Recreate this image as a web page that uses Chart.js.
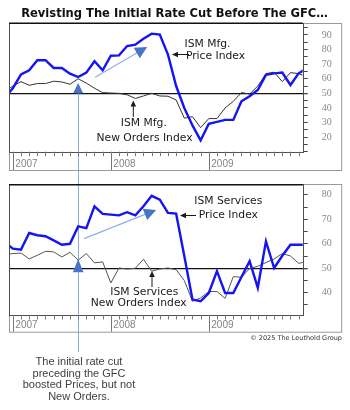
<!DOCTYPE html>
<html>
<head>
<meta charset="utf-8">
<script src="https://cdn.jsdelivr.net/npm/chart.js@4.4.0/dist/chart.umd.min.js"></script>
<style>
  body { margin: 0; background: #fff; width: 350px; height: 410px; overflow: hidden; position: relative; }
  canvas { position: absolute; left: 0; }
  #topChart { top: 0; }
  #botChart { top: 177px; }
</style>
</head>
<body>
<canvas id="topChart" width="350" height="177"></canvas>
<canvas id="botChart" width="350" height="233"></canvas>
<script>
// months, Dec 2006 .. Jan 2010 (first and last are cut off by the plot edges)
const months = ['2006-12',
  '2007-01','2007-02','2007-03','2007-04','2007-05','2007-06','2007-07','2007-08','2007-09','2007-10','2007-11','2007-12',
  '2008-01','2008-02','2008-03','2008-04','2008-05','2008-06','2008-07','2008-08','2008-09','2008-10','2008-11','2008-12',
  '2009-01','2009-02','2009-03','2009-04','2009-05','2009-06','2009-07','2009-08','2009-09','2009-10','2009-11','2009-12',
  '2010-01'];
const yearLabels = ['2007', '2008', '2009'];
const rateCutMonth = '2007-09';

// ISM manufacturing
const mfgPrices = [47, 53.5, 63, 65.8, 72.7, 72.7, 67.4, 67.4, 63.5, 61.2, 64.2, 72, 65.8,
  75.8, 76, 82.4, 83.3, 87.4, 90.9, 90.2, 76.5, 55, 40, 28, 17.8,
  29.1, 30.4, 31.8, 31.8, 44.5, 48, 52.3, 62.6, 63.7, 64.2, 55.7, 63.7,
  67];
const mfgNewOrders = [51, 55, 58, 55.5, 56.7, 56.7, 58.3, 57.8, 56.2, 60, 57, 53.5, 50.5,
  50.2, 50, 49, 46.5, 48.2, 50, 48.2, 48, 45.5, 33, 34, 26.5,
  32.7, 32.7, 40, 44.5, 50.5, 49.5, 55, 63.5, 64.5, 58, 64.2, 63.5,
  61.5];

// ISM services
const svcPrices = [60.8, 58, 57.6, 64.4, 63.5, 63.1, 61.4, 59.6, 60, 67.1, 66.4, 75.3, 72.2,
  71.9, 71.6, 72.9, 71.6, 75.3, 79.6, 78, 72.6, 72.3, 55, 37.2, 36.5,
  39.9, 48.8, 39.9, 39.9, 46.4, 52.9, 42, 61, 50.1, 55.1, 59.6, 59.6,
  59.6];
const svcNewOrders = [55.5, 56, 56.2, 53.8, 55.3, 56.9, 56.7, 54.6, 56.5, 53.3, 56, 52.2, 52.6,
  44, 50.1, 49.7, 50, 53.7, 48.8, 49.7, 50.1, 49.4, 45, 36.5, 37.9,
  40.5, 40.5, 37.7, 46.6, 46.3, 49.9, 50.8, 52.3, 53.8, 56, 55, 52,
  52.8];

const mfgTicks = [20, 30, 40, 50, 60, 70, 80, 90];
const svcTicks = [40, 50, 60, 70, 80];

// month string -> months since Jan 2007
function monthPos(m) {
  const [y, mo] = m.split('-').map(Number);
  return (y - 2007) * 12 + (mo - 1);
}
const monthX = months.map(monthPos);
const toXY = vals => vals.map((v, i) => ({ x: monthX[i], y: v }));

const labelFont = "'DejaVu Sans', sans-serif";

function arrowHead(ctx, tx, ty, fx, fy, len, half) {
  const a = Math.atan2(ty - fy, tx - fx);
  const bx = tx - len * Math.cos(a), by = ty - len * Math.sin(a);
  ctx.beginPath();
  ctx.moveTo(tx, ty);
  ctx.lineTo(bx + half * Math.sin(a), by - half * Math.cos(a));
  ctx.lineTo(bx - half * Math.sin(a), by + half * Math.cos(a));
  ctx.closePath();
  ctx.fill();
}

function fitText(ctx, text, weight, family, width) {
  ctx.font = weight + ' 20px ' + family;
  const size = 20 * width / ctx.measureText(text).width;
  ctx.font = weight + ' ' + size.toFixed(2) + 'px ' + family;
}

const decor = {
  id: 'decor',
  beforeDatasetsDraw(chart, args, o) {
    const { ctx } = chart;
    const x = chart.scales.x.getPixelForValue(monthPos(rateCutMonth));
    ctx.save();
    ctx.strokeStyle = '#8fa9dc';
    ctx.lineWidth = 1;
    ctx.beginPath();
    ctx.moveTo(Math.round(x) + 0.5, o.vlineFrom === null ? chart.scales.y.getPixelForValue(o.marker.base) : o.vlineFrom);
    ctx.lineTo(Math.round(x) + 0.5, o.vlineTo);
    ctx.stroke();
    ctx.restore();
  },
  afterDraw(chart, args, o) {
    const { ctx, chartArea: a } = chart;
    const xs = chart.scales.x, ys = chart.scales.y;
    ctx.save();

    // outer frame
    ctx.strokeStyle = '#9a9a9a';
    ctx.lineWidth = 1;
    ctx.strokeRect(9.5, Math.round(a.top) + 0.5, 341.7 - 9.5, o.boxBottom - Math.round(a.top));

    // plot frame
    ctx.strokeStyle = '#505050';
    ctx.strokeRect(Math.round(a.left) + 0.5, Math.round(a.top) + 0.5, Math.round(a.right - a.left), Math.round(a.bottom - a.top));
    ctx.strokeStyle = '#111';
    ctx.lineWidth = 1.6;
    ctx.beginPath();
    ctx.moveTo(a.left, a.top + 0.5);
    ctx.lineTo(a.right, a.top + 0.5);
    ctx.stroke();

    // month ticks and year separators
    ctx.lineWidth = 1;
    ctx.strokeStyle = '#777';
    for (let m = 0; m <= 35; m++) {
      const px = Math.round(xs.getPixelForValue(m)) + 0.5;
      ctx.beginPath();
      ctx.moveTo(px, a.bottom);
      ctx.lineTo(px, m % 12 === 0 ? o.boxBottom : a.bottom + 4.5);
      ctx.stroke();
    }
    ctx.fillStyle = '#858585';
    ctx.font = "10px 'Liberation Sans', sans-serif";
    ctx.textAlign = 'left';
    yearLabels.forEach(yr => {
      const px = xs.getPixelForValue(monthPos(yr + '-01'));
      ctx.fillText(yr, px + 2.5, o.boxBottom - 3.5);
    });

    // signal triangle
    const cx = xs.getPixelForValue(monthPos(rateCutMonth));
    const apex = ys.getPixelForValue(o.marker.apex), base = ys.getPixelForValue(o.marker.base);
    ctx.fillStyle = '#4674c6';
    ctx.beginPath();
    ctx.moveTo(cx, apex);
    ctx.lineTo(cx + o.marker.half, base);
    ctx.lineTo(cx - o.marker.half, base);
    ctx.closePath();
    ctx.fill();

    // trend arrow
    const fx = xs.getPixelForValue(o.trend.from[0]), fy = ys.getPixelForValue(o.trend.from[1]);
    const tx = xs.getPixelForValue(o.trend.to[0]), ty = ys.getPixelForValue(o.trend.to[1]);
    const ang = Math.atan2(ty - fy, tx - fx);
    ctx.strokeStyle = '#8fb0e6';
    ctx.lineWidth = 1.3;
    ctx.beginPath();
    ctx.moveTo(fx, fy);
    ctx.lineTo(tx - 10 * Math.cos(ang), ty - 10 * Math.sin(ang));
    ctx.stroke();
    ctx.fillStyle = '#4674c6';
    arrowHead(ctx, tx, ty, fx, fy, 12, 6);

    // series labels
    ctx.fillStyle = '#1a1a1a';
    ctx.textAlign = 'center';
    fitText(ctx, 'New Orders Index', '', labelFont, 96);
    o.labels.forEach(l => ctx.fillText(l.text, l.x, l.y));

    // little pointers
    ctx.strokeStyle = '#1a1a1a';
    ctx.lineWidth = 1;
    o.pointers.forEach(p => {
      ctx.beginPath();
      ctx.moveTo(p.x1, p.y1);
      ctx.lineTo(p.x2 + (p.x1 - p.x2) * 0.3, p.y2 + (p.y1 - p.y2) * 0.3);
      ctx.stroke();
      arrowHead(ctx, p.x2, p.y2, p.x1, p.y1, 6, 2.8);
    });

    // extra text
    o.texts.forEach(t => {
      ctx.fillStyle = t.color;
      ctx.textAlign = t.align;
      if (t.width) fitText(ctx, t.text, t.weight || '', t.family, t.width);
      else ctx.font = t.font;
      ctx.fillText(t.text, t.x, t.y);
    });
    ctx.restore();
  }
};

function makePanel(id, prices, orders, yMin, yMax, tickList, pad, ordersColor, deco) {
  return new Chart(document.getElementById(id), {
    type: 'line',
    data: {
      datasets: [
        { data: toXY(prices), borderColor: '#1414f5', borderWidth: 2.4, clip: 0 },
        { data: toXY(orders), borderColor: ordersColor, borderWidth: 1, clip: 0 }
      ]
    },
    options: {
      responsive: false,
      animation: false,
      devicePixelRatio: 1,
      layout: { padding: pad, autoPadding: false },
      elements: { point: { radius: 0 }, line: { tension: 0 } },
      plugins: { legend: { display: false }, tooltip: { enabled: false }, decor: deco },
      scales: {
        x: { type: 'linear', min: -0.47, max: 35.5, display: false },
        y: {
          position: 'right',
          min: yMin,
          max: yMax,
          afterFit: s => { s.width = 40; s.paddingTop = 0; s.paddingBottom = 0; },
          border: { display: false },
          grid: {
            color: c => (c.tick && c.tick.value === 50 ? '#111' : 'rgba(0,0,0,0)'),
            lineWidth: c => (c.tick && c.tick.value === 50 ? 1.3 : 1),
            tickColor: '#444',
            tickLength: 5
          },
          ticks: {
            stepSize: 5,
            autoSkip: false,
            includeBounds: false,
            padding: 14,
            color: '#8a8a8a',
            font: { family: "'Liberation Serif', serif", size: 10 },
            callback: v => (tickList.includes(v) ? v : '')
          }
        }
      }
    },
    plugins: [decor]
  });
}

makePanel('topChart', mfgPrices, mfgNewOrders, 10, 98.4, mfgTicks,
  { left: 9, right: 7.3, top: 22.7, bottom: 25.3 }, '#333', {
    boxBottom: 170,
    vlineFrom: null,
    vlineTo: 177,
    marker: { apex: 57, base: 50, half: 5 },
    trend: { from: [10.07, 61], to: [16.45, 81.8] },
    labels: [
      { text: 'ISM Mfg.', x: 207.5, y: 46.7 },
      { text: 'Price Index', x: 215.5, y: 59 },
      { text: 'ISM Mfg.', x: 143.8, y: 126 },
      { text: 'New Orders Index', x: 144.5, y: 140.5 }
    ],
    pointers: [
      { x1: 189, y1: 54.5, x2: 172, y2: 54.5 },
      { x1: 133.3, y1: 117, x2: 133.3, y2: 100.5 }
    ],
    texts: [
      { text: 'Revisting The Initial Rate Cut Before The GFC\u2026', x: 174.5, y: 17, align: 'center',
        color: '#111', weight: 'bold', family: labelFont, width: 307 }
    ]
  });

makePanel('botChart', svcPrices, svcNewOrders, 30.9, 84.3, svcTicks,
  { left: 9, right: 7.3, top: 7.3, bottom: 95 }, '#555', {
    boxBottom: 154.7,
    vlineFrom: 0,
    vlineTo: 175,
    marker: { apex: 53.8, base: 48.4, half: 5.3 },
    trend: { from: [8.73, 62.1], to: [17.55, 73.8] },
    labels: [
      { text: 'ISM Services', x: 228.3, y: 27 },
      { text: 'Price Index', x: 228.3, y: 40.7 },
      { text: 'ISM Services', x: 144.3, y: 117.5 },
      { text: 'New Orders Index', x: 138.7, y: 129 }
    ],
    pointers: [
      { x1: 196, y1: 38.5, x2: 180, y2: 38.5 },
      { x1: 152, y1: 110, x2: 152, y2: 94 }
    ],
    texts: [
      { text: '\u00a9 2025 The Leuthold Group', x: 342, y: 163, align: 'right', color: '#333', family: labelFont, width: 92 },
      { text: 'The initial rate cut', x: 79, y: 188, align: 'center', color: '#404040', font: "11px 'Liberation Sans', sans-serif" },
      { text: 'preceding the GFC', x: 79, y: 199.7, align: 'center', color: '#404040', font: "11px 'Liberation Sans', sans-serif" },
      { text: 'boosted Prices, but not', x: 79, y: 211.3, align: 'center', color: '#404040', font: "11px 'Liberation Sans', sans-serif" },
      { text: 'New Orders.', x: 79, y: 223, align: 'center', color: '#404040', font: "11px 'Liberation Sans', sans-serif" }
    ]
  });
</script>
</body>
</html>
